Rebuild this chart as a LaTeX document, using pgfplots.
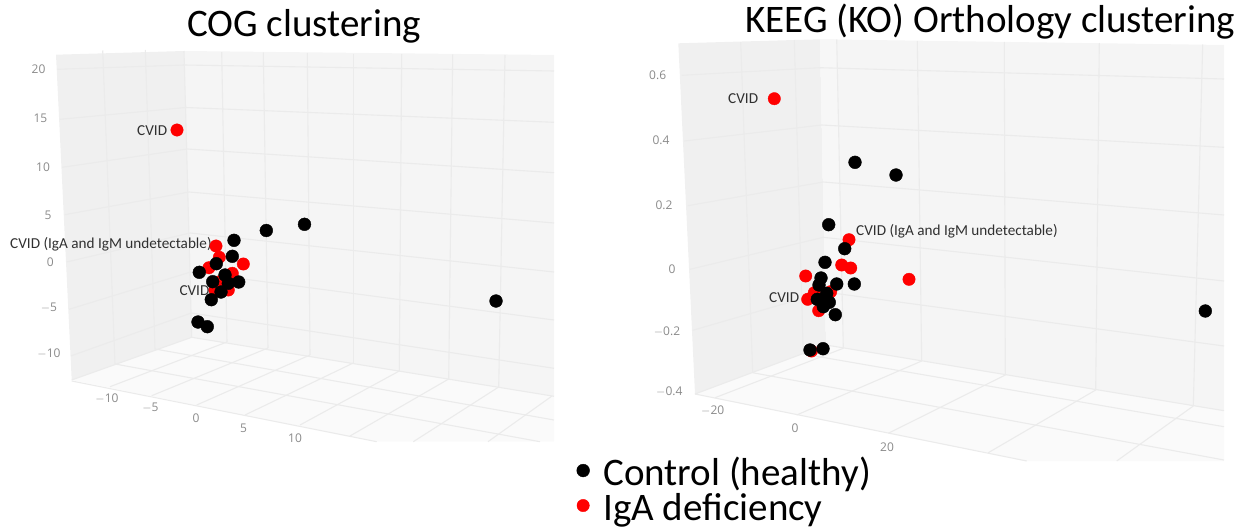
\documentclass[border=0pt]{standalone}
\usepackage{pgfplots}
\pgfplotsset{compat=1.18}
\usepackage{fontspec}
\setmainfont{Carlito}
\newfontfamily\tickfont{Open Sans}
\definecolor{wallL}{HTML}{F0F0F0}
\definecolor{wallR}{HTML}{F5F5F5}
\definecolor{stripC}{HTML}{F7F7F7}
\definecolor{floorC}{HTML}{FAFAFA}
\definecolor{gridC}{HTML}{EBEBEB}
\definecolor{tickC}{HTML}{8A8A8A}
\definecolor{txtC}{HTML}{303030}
\newcommand{\gl}[4]{\addplot[gridC,line width=1.1pt,forget plot] coordinates {(#1,#2) (#3,#4)};}
\newcommand{\tk}[3]{\node[font=\tickfont\fontsize{12}{12}\selectfont,text=tickC,anchor=center,inner sep=0pt] at (axis cs:#1,#2) {#3};}
\newcommand{\lb}[3]{\node[font=\fontsize{15.2}{16}\selectfont,text=txtC,anchor=west,inner sep=0pt] at (axis cs:#1,#2) {#3};}
\begin{document}
\begin{tikzpicture}
\useasboundingbox (0,0) rectangle (1251pt,530pt);
\begin{axis}[
  at={(0,0)},anchor=south west,
  scale only axis,width=1251pt,height=530pt,
  xmin=0,xmax=1251,ymin=0,ymax=530,y dir=reverse,
  axis lines=none,clip=false,
  legend style={at={(axis description cs:0.4572,0.132)},anchor=north west,draw=none,fill=none,
    font=\fontsize{39}{39}\selectfont,inner sep=0pt,outer sep=0pt,row sep=4pt,
    nodes={inner sep=0pt,text depth=6pt,text height=25pt}},
  legend cell align=left,
  legend image code/.code={\draw[#1] plot coordinates {(11pt,5pt)};\path (0pt,0pt) (31pt,0pt);},
]
\addlegendimage{only marks,mark=*,mark size=6.4pt,black}
\addlegendentry{Control (healthy)}
\addlegendimage{only marks,mark=*,mark size=6.2pt,red}
\addlegendentry{IgA deficiency}
% ---------- left panel walls and floor
\addplot[draw=none,fill=wallL,forget plot] coordinates {(56,54.7)(184,51)(191.7,337.3)(71.7,380)} -- cycle;
\addplot[draw=none,fill=wallR,forget plot] coordinates {(184,51)(554,55)(554,396.3)(191.7,337.3)} -- cycle;
\addplot[draw=none,fill=floorC,forget plot] coordinates {(71.7,380)(191.7,337.3)(554,396.3)(554,441.7)(376.7,441.7)} -- cycle;
% z lines, left panel
\gl{57.3}{69.3}{184.3}{65}\gl{184.3}{65}{554}{71}
\gl{60}{119.3}{185.7}{107.5}\gl{185.7}{107.5}{554}{122.3}
\gl{62.3}{167.3}{187.3}{149}\gl{187.3}{149}{554}{172.7}
\gl{64.7}{214.7}{189}{192}\gl{189}{192}{554}{223}
\gl{66.7}{262}{190}{233}\gl{190}{233}{554}{272}
\gl{69}{309.3}{190.7}{272}\gl{190.7}{272}{554}{320}
\gl{70.7}{356}{191.3}{313}\gl{191.3}{313}{554}{368.3}
% verticals, left panel
\gl{102.7}{50.5}{115}{364}\gl{145.3}{50}{155}{349}\gl{184}{51}{191.7}{337.3}
\gl{221.7}{52}{227}{342}\gl{263.3}{52.5}{268}{348}\gl{307.3}{53}{310}{355}
\gl{353.3}{53.5}{353.3}{363}\gl{401.7}{54}{399.3}{371}\gl{452.7}{54.5}{448.7}{379}\gl{505}{55}{498.7}{387}
% floor lines, left panel
\gl{71.7}{380}{191.7}{337.3}\gl{191.7}{337.3}{554}{396.3}
\gl{71.7}{381}{376.7}{441.7}
\gl{115}{364}{540}{441.7}\gl{155}{349}{554}{420}
\gl{227}{342}{110}{386.7}\gl{268}{348}{151.7}{395.7}\gl{310}{355}{196.7}{405}
\gl{353.3}{363}{245}{415}\gl{399.3}{371}{300}{425}\gl{448.7}{379}{350}{436}
\gl{498.7}{387}{413.3}{441.7}\gl{552}{396}{488}{441.7}
% ---------- right panel walls and floor
\addplot[draw=none,fill=wallL,forget plot] coordinates {(678.3,43.3)(820,39.3)(826,345)(695,394)} -- cycle;
\addplot[draw=none,fill=wallR,forget plot] coordinates {(820,39.3)(1224,45)(1224,410.7)(826,345)} -- cycle;
\addplot[draw=none,fill=stripC,forget plot] coordinates {(820,39.3)(836.7,39.5)(843.3,348.3)(826,345)} -- cycle;
\addplot[draw=none,fill=floorC,forget plot] coordinates {(695,394)(826,345)(1224,410.7)(1224,461)(1026.7,461)} -- cycle;
% z lines, right panel
\gl{681.7}{75.3}{820}{67.7}\gl{820}{67.7}{1224}{79}
\gl{684.3}{141}{821.7}{125}\gl{821.7}{125}{1224}{147.3}
\gl{687.7}{205.7}{823.3}{182}\gl{823.3}{182}{1224}{215}
\gl{690}{269.3}{823.3}{237.3}\gl{823.3}{237.3}{1224}{281}
\gl{692.7}{330.3}{825}{292}\gl{825}{292}{1224}{346}
% verticals, right panel
\gl{740.7}{42}{752.7}{372.7}\gl{794.3}{40}{803.3}{354}
\gl{836.7}{39.5}{843.3}{348.3}\gl{917.3}{41}{921.7}{361}\gl{1004.3}{42}{1005.3}{375}
\gl{1099.3}{43}{1095.7}{390}\gl{1202.7}{44.5}{1193.3}{406}
% floor lines, right panel
\gl{695}{394}{826}{345}\gl{826}{345}{1224}{410.7}
\gl{695}{394}{1026.7}{461}
\gl{803.3}{354}{1224}{426.7}\gl{752.7}{372.7}{1224}{460}
\gl{843.3}{348.3}{715}{397.7}\gl{921.7}{361}{796.7}{415}\gl{1005.3}{375}{888.3}{433.3}
\gl{1095.7}{390}{988.3}{452.7}\gl{1193.3}{406}{1116.7}{461}
% ---------- points
\addplot[only marks,mark=*,mark size=6.2pt,red,forget plot] coordinates {
 (177,130)(216,246)(219.3,257.3)(209,267.7)(243.3,264)(232.3,273.3)(220,281.7)(215,290)(228.3,290)};
\addplot[only marks,mark=*,mark size=6.2pt,red,forget plot] coordinates {
 (774.3,98.7)(849,239.7)(841.7,265)(850.7,268)(805.7,276)(909,279.3)(814.3,292.7)(807.7,299.3)(830.7,291.7)(818.7,310.7)(811.5,351)};
\addplot[only marks,mark=*,mark size=6.4pt,black,forget plot] coordinates {
 (234,240.3)(266.3,230.5)(304.5,224.3)(232.3,256.3)(216.3,263.7)(199.3,272.3)(225,275)(212.7,281.7)(238.7,282)(228.3,283.3)(221,292)(211.3,299.7)(198,322)(207.3,326.7)(496,301)};
\addplot[only marks,mark=*,mark size=6.4pt,black,forget plot] coordinates {
 (828.7,224.7)(844.7,248.7)(825,262.3)(821,278)(819,285)(836.7,284)(854.3,284)(826.7,293.3)(817.3,299.3)(829.3,302.3)(825,298.3)(823.3,306.7)(835.3,314.7)(810,350)(823,348.7)(855,162.3)(896,175)(1205.3,311)};
% ---------- ticks, left
\tk{38.5}{69}{20}\tk{40.4}{118}{15}\tk{43}{167}{10}\tk{48}{215}{5}\tk{50.4}{262}{0}\tk{49}{308}{\(-\)5}\tk{49}{354}{\(-\)10}
\tk{107}{399}{\(-\)10}\tk{150.5}{408}{\(-\)5}\tk{196}{418}{0}\tk{243.5}{428}{5}\tk{295}{438}{10}
% ticks, right
\tk{657.7}{75}{0.6}\tk{661}{140.7}{0.4}\tk{664}{205.3}{0.2}\tk{672}{269}{0}\tk{667}{331.7}{\(-\)0.2}\tk{669.3}{392}{\(-\)0.4}
\tk{712.7}{410.7}{\(-\)20}\tk{795}{428.3}{0}\tk{887}{447.7}{20}
% ---------- labels
\lb{137}{130.7}{CVID}
\lb{10}{244}{CVID (IgA and IgM undetectable)}
\lb{179.3}{290.7}{CVID}
\lb{728}{98.3}{CVID}
\lb{856}{231.3}{CVID (IgA and IgM undetectable)}
\lb{769}{298}{CVID}
% ---------- titles
\node[font=\fontsize{39}{39}\selectfont,anchor=base west,inner sep=0pt] at (axis cs:187,36) {COG clustering};
\node[font=\fontsize{39}{39}\selectfont,anchor=base west,inner sep=0pt] at (axis cs:745,32) {KEEG (KO) Orthology clustering};
\end{axis}
\end{tikzpicture}
\end{document}
